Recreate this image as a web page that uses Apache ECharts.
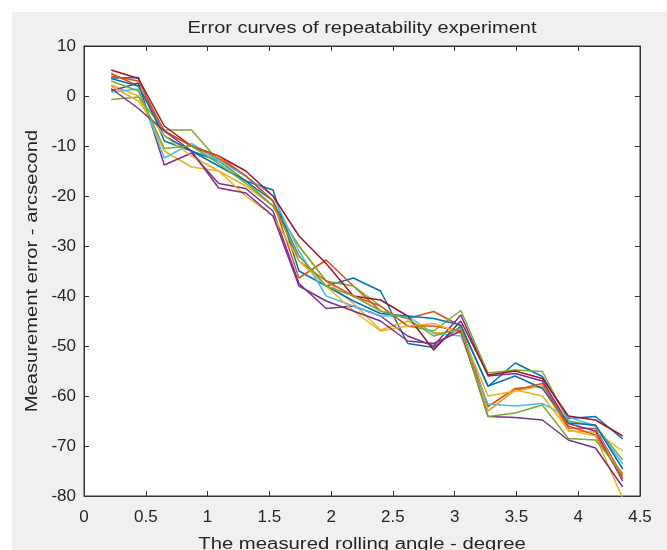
<!DOCTYPE html>
<html>
<head>
<meta charset="utf-8">
<script src="https://cdn.jsdelivr.net/npm/echarts@6/dist/echarts.min.js"></script>
<style>
html,body{margin:0;padding:0;background:#fff;}
#c{width:667px;height:550px;}
</style>
</head>
<body>
<div id="c"></div>
<script>
// Data
var angles = [0.22,0.44,0.65,0.87,1.09,1.31,1.53,1.74,1.96,2.18,2.40,2.62,2.83,3.05,3.27,3.49,3.71,3.92,4.14,4.36];
var s1  = [3.6, 3.7, -9, -11, -13, -17, -18.8, -35, -38, -36.4, -39, -49.5, -50.3, -46, -58.1, -53.4, -56.1, -64.5, -64.1, -68.6];
var s2  = [4.5, 2, -7, -10, -12.5, -16, -21, -36.4, -32.8, -38, -43, -44.5, -43.1, -46, -62.1, -58.5, -58.1, -66.4, -66.5, -76];
var s3  = [2.2, 0, -11, -14.2, -15, -18, -22, -30, -37, -41.5, -46.8, -45, -47.4, -47, -60, -59, -58, -67, -67.2, -71];
var s4  = [1, 2.6, -13.8, -11.4, -17.5, -18.5, -23, -37.5, -42.5, -42, -44, -48, -50, -43.8, -56, -55.5, -57, -65.5, -67, -77];
var s5  = [-0.7, -0.2, -6.8, -6.8, -13, -17, -22, -30, -37, -38, -42, -46, -47, -42.9, -55.4, -54.8, -55.1, -65, -66, -72.8];
var s6  = [0.8, 1.4, -12.4, -9.5, -13, -16, -20, -31, -40, -42, -44, -44, -47.5, -48, -61.6, -62, -61.5, -64.2, -66, -73.6];
var s7  = [5.2, 3.5, -6, -10, -12, -15, -20, -28, -33.5, -40, -40.8, -44, -50.8, -45, -55.8, -55, -56.5, -64, -64.8, -68];
var s8  = [3.5, 2, -8, -11, -14, -17, -21, -32, -38, -41, -43.5, -44, -44.5, -45.8, -58, -56, -58.5, -65.4, -65.8, -74.6];
var s9  = [4, 3, -7, -10, -12, -16, -21, -33, -37, -40, -42, -46, -46, -47, -63, -58.8, -57.5, -66, -67.8, -76.5];
var s10 = [2, -1, -8, -12, -15, -20, -24, -33, -38, -43, -47, -46, -45.5, -47.5, -63, -58.8, -60, -66.8, -68, -80.5];
var s11 = [1.5, -2.5, -7, -11, -18.4, -19.4, -24, -38, -41, -43, -45, -49, -49.5, -47, -64.1, -64.3, -64.8, -68.8, -70.4, -78.2];
var s12 = [3, 1, -10.5, -10, -13.5, -17.5, -22, -32, -38, -40, -43, -44.5, -48, -46.5, -64.1, -63.4, -61.8, -68.5, -68.8, -75.5];
var allSeries = [s1,s2,s3,s4,s5,s6,s7,s8,s9,s10,s11,s12];
var xTicks = [0,4.5,0.5];
var yTicks = [-80,10,10];

var colors = ['#0072BD','#D95319','#EDB120','#7E2F8E','#77AC30','#4DBEEE','#A2142F'];
var font = "'Liberation Sans', Arial, Helvetica, sans-serif";
var axisColor = '#333333';

var chart = echarts.init(document.getElementById('c'));
var series = allSeries.map(function(vals, i){
  return {
    type:'line', xAxisIndex:0, yAxisIndex:0,
    data: vals.map(function(v,j){return [angles[j], v];}),
    showSymbol:false, symbol:'none', clip:true,
    lineStyle:{width:1.5, color: colors[i % colors.length]},
    animation:false
  };
});

function xAx(pos, labels){
  return {
    type:'value', position:pos, min:xTicks[0], max:xTicks[1], interval:xTicks[2],
    axisLine:{show:true, onZero:false, lineStyle:{color:axisColor, width:1}},
    axisTick:{show:true, inside:true, length:5, lineStyle:{color:axisColor}},
    axisLabel:{show:labels, color:'#262626', fontFamily:font, fontSize:17, margin:13},
    splitLine:{show:false}
  };
}
function yAx(pos, labels){
  return {
    type:'value', position:pos, min:yTicks[0], max:yTicks[1], interval:yTicks[2],
    axisLine:{show:true, onZero:false, lineStyle:{color:axisColor, width:1}},
    axisTick:{show:true, inside:true, length:5, lineStyle:{color:axisColor}},
    axisLabel:{show:labels, color:'#262626', fontFamily:font, fontSize:17, margin:8},
    splitLine:{show:false}
  };
}

chart.setOption({
  animation:false,
  backgroundColor:'#ffffff',
  grid:{left:84, right:27, top:46, bottom:54, show:true, backgroundColor:'#ffffff', borderColor:axisColor, borderWidth:1},
  xAxis:[xAx('bottom', true), xAx('top', false)],
  yAxis:[yAx('left', true), yAx('right', false)],
  graphic:[
    {type:'rect', z:-100, zlevel:0, silent:true, shape:{x:12,y:12,width:655,height:538}, style:{fill:'#f0f0f0'}},
    {type:'text', x:362, y:29, scaleX:1.25, style:{text:'Error curves of repeatability experiment', font:'16px '+font, fill:'#262626', textAlign:'center', textVerticalAlign:'middle'}},
    {type:'text', x:362, y:545, scaleX:1.27, style:{text:'The measured rolling angle - degree', font:'16px '+font, fill:'#262626', textAlign:'center', textVerticalAlign:'middle'}},
    {type:'text', x:33, y:271, rotation:Math.PI/2, scaleX:1.26, style:{text:'Measurement error - arcsecond', font:'16px '+font, fill:'#262626', textAlign:'center', textVerticalAlign:'middle'}}
  ],
  series:series
});
</script>
</body>
</html>
